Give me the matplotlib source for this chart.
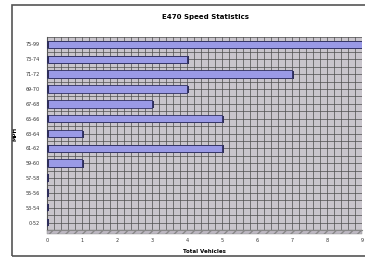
import numpy as np
import matplotlib
matplotlib.use("Agg")
from matplotlib import pyplot as plt
from matplotlib.patches import Rectangle

speeds = ["0-52", "53-54", "55-56", "57-58", "59-60", "61-62", "63-64",
          "65-66", "67-68", "69-70", "71-72", "73-74", "75-99"]
vehicles = [0, 0, 0, 0, 1, 5, 1, 5, 3, 4, 7, 4, 9]

W, H = 365, 258
fig = plt.figure(figsize=(W / 100, H / 100), dpi=100)
fig.patch.set_facecolor("white")

# outer chart frame
fig.patches.append(Rectangle((12 / W, 2 / H), 360 / W, 251 / H, transform=fig.transFigure,
                             fill=False, edgecolor="#555555", linewidth=1.2))

ax = fig.add_axes([47 / W, 28 / H, 315 / W, 193 / H])
ax.set_facecolor("#c9c5cc")

y = np.arange(len(speeds))
# shadow for the 3d look
ax.barh(y - 0.05, vehicles, height=0.5, left=0.05, color="#2e2e5a", zorder=2)
ax.barh(y, vehicles, height=0.5, color="#9a9ae6", edgecolor="#2e2e5e",
        linewidth=0.6, zorder=3)
# stubs for empty bins
ax.barh(y, [0.06] * len(y), height=0.5, color="#2e2e5a", zorder=4)

ax.set_xlim(0, 9)
ax.set_ylim(-0.5, 12.5)
ax.set_xticks(np.arange(0, 10))
ax.set_xticks(np.arange(0, 9.01, 0.2), minor=True)
ax.set_yticks(y)
ax.set_yticks(np.arange(-0.5, 12.6, 0.5), minor=True)
ax.set_yticklabels(speeds)
ax.grid(True, which="both", color="#4d4d4d", linewidth=0.5)
ax.set_axisbelow(True)
ax.tick_params(which="both", length=0)
ax.tick_params(axis="both", labelsize=3.5, colors="#333333")
ax.tick_params(axis="y", pad=5)
ax.tick_params(axis="x", pad=6)
for s in ax.spines.values():
    s.set_visible(False)
ax.spines["bottom"].set_visible(True)
ax.spines["bottom"].set_color("#888888")
ax.spines["left"].set_visible(True)
ax.spines["left"].set_color("#555555")

# 3d floor strip under the plot
ax.add_patch(Rectangle((0, -0.5), 9, -0.3, transform=ax.transData, clip_on=False,
                       facecolor="#bdb8c2", edgecolor="#888888", hatch="////", linewidth=0.3))

ax.set_xlabel("Total Vehicles", fontsize=4, fontweight="bold", labelpad=4)
ax.set_ylabel("MPH", fontsize=4, fontweight="bold", labelpad=6)
fig.text(205 / W, 1 - 17 / H, "E470 Speed Statistics", fontsize=5, fontweight="bold",
         ha="center", va="center")

plt.savefig("out.png", dpi=100)
